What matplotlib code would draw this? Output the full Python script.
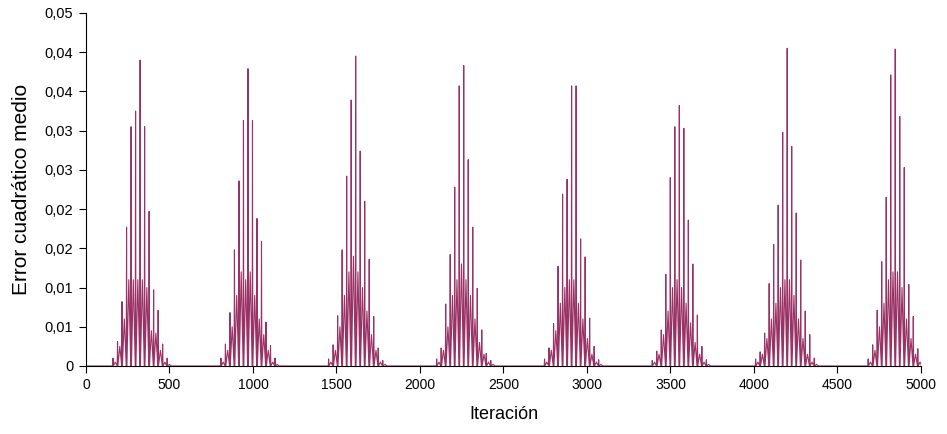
import matplotlib.pyplot as plt
import numpy as np

plt.rcParams['font.family'] = ['Liberation Sans', 'DejaVu Sans']

# iteración del primer pico de cada ráfaga y separación entre picos
inicio_rafaga = [162, 808, 1453, 2100, 2746, 3391, 4010, 4684]
periodo = 27

# alturas de los picos principales de cada ráfaga
picos = [
    [0.0010, 0.0031, 0.0082, 0.0177, 0.0305, 0.0325, 0.0390, 0.0305, 0.0197, 0.0097, 0.0071, 0.0028, 0.0010],
    [0.0010, 0.0028, 0.0068, 0.0148, 0.0236, 0.0313, 0.0379, 0.0313, 0.0188, 0.0159, 0.0056, 0.0026, 0.0010],
    [0.0009, 0.0027, 0.0064, 0.0148, 0.0242, 0.0339, 0.0395, 0.0274, 0.0210, 0.0136, 0.0063, 0.0023, 0.0007],
    [0.0009, 0.0023, 0.0079, 0.0142, 0.0228, 0.0357, 0.0383, 0.0263, 0.0177, 0.0099, 0.0046, 0.0016, 0.0007],
    [0.0009, 0.0023, 0.0054, 0.0127, 0.0219, 0.0238, 0.0357, 0.0357, 0.0162, 0.0139, 0.0061, 0.0025, 0.0008],
    [0.0007, 0.0019, 0.0046, 0.0117, 0.0240, 0.0305, 0.0332, 0.0303, 0.0186, 0.0130, 0.0065, 0.0025, 0.0008],
    [0.0009, 0.0018, 0.0042, 0.0105, 0.0155, 0.0205, 0.0298, 0.0405, 0.0280, 0.0195, 0.0135, 0.0070, 0.0040, 0.0010],
    [0.0009, 0.0027, 0.0071, 0.0133, 0.0215, 0.0371, 0.0404, 0.0318, 0.0253, 0.0104, 0.0063, 0.0022, 0.0006],
]

# alturas de las jorobas secundarias entre picos
secundarios = [
    [0.0005, 0.0025, 0.0060, 0.0110, 0.0110, 0.0110, 0.0110, 0.0100, 0.0045, 0.0042, 0.0020, 0.0005, 0.0002],
    [0.0005, 0.0020, 0.0050, 0.0090, 0.0120, 0.0110, 0.0120, 0.0090, 0.0060, 0.0040, 0.0020, 0.0005, 0.0002],
    [0.0005, 0.0020, 0.0050, 0.0090, 0.0120, 0.0140, 0.0120, 0.0100, 0.0070, 0.0040, 0.0020, 0.0005, 0.0002],
    [0.0005, 0.0020, 0.0050, 0.0090, 0.0110, 0.0130, 0.0110, 0.0090, 0.0060, 0.0030, 0.0015, 0.0005, 0.0002],
    [0.0005, 0.0020, 0.0045, 0.0080, 0.0100, 0.0110, 0.0110, 0.0080, 0.0060, 0.0035, 0.0015, 0.0005, 0.0002],
    [0.0005, 0.0015, 0.0040, 0.0070, 0.0100, 0.0110, 0.0100, 0.0080, 0.0055, 0.0030, 0.0015, 0.0005, 0.0002],
    [0.0005, 0.0015, 0.0035, 0.0060, 0.0080, 0.0100, 0.0110, 0.0110, 0.0090, 0.0060, 0.0035, 0.0015, 0.0005, 0.0002],
    [0.0005, 0.0020, 0.0050, 0.0080, 0.0110, 0.0120, 0.0120, 0.0100, 0.0060, 0.0035, 0.0015, 0.0005, 0.0002],
]

xticks = [0, 500, 1000, 1500, 2000, 2500, 3000, 3500, 4000, 4500, 5000]
yticks = [0, 0.005, 0.01, 0.015, 0.02, 0.025, 0.03, 0.035, 0.04, 0.045]
ytick_labels = ["0", "0,01", "0,01", "0,02", "0,02", "0,03", "0,03", "0,04", "0,04", "0,05"]

# serie como polilínea: pico estrecho + joroba ancha entre picos
xs, ys = [0], [0.0]
for ini, alt, sec in zip(inicio_rafaga, picos, secundarios):
    for i, (h, s) in enumerate(zip(alt, sec)):
        p = ini + i * periodo
        xs += [p - 2, p, p + 2, p + periodo / 2, p + periodo - 2]
        ys += [0.0, h, 0.0, s, 0.0]
xs.append(5000)
ys.append(0.0)

fig = plt.figure(figsize=(9.47, 4.34), dpi=100)
ax = fig.add_axes([0.0908, 0.1567, 0.8817, 0.8134])
ax.plot(xs, ys, color="#993366", lw=0.8)

ax.set_xlim(0, 5000)
ax.set_ylim(0, 0.045)
ax.set_xticks(xticks)
ax.set_xticklabels([str(t) for t in xticks])
ax.set_yticks(yticks)
ax.set_yticklabels(ytick_labels)
ax.tick_params(direction="out", length=5, width=0.8, labelsize=10, pad=4)
ax.tick_params(axis="y", labelsize=10.5)
for side in ["top", "right"]:
    ax.spines[side].set_visible(False)
ax.set_xlabel("Iteración", fontsize=13, labelpad=10)
ax.set_ylabel("Error cuadrático medio", fontsize=15, labelpad=10)

fig.savefig("out.png", dpi=100)
